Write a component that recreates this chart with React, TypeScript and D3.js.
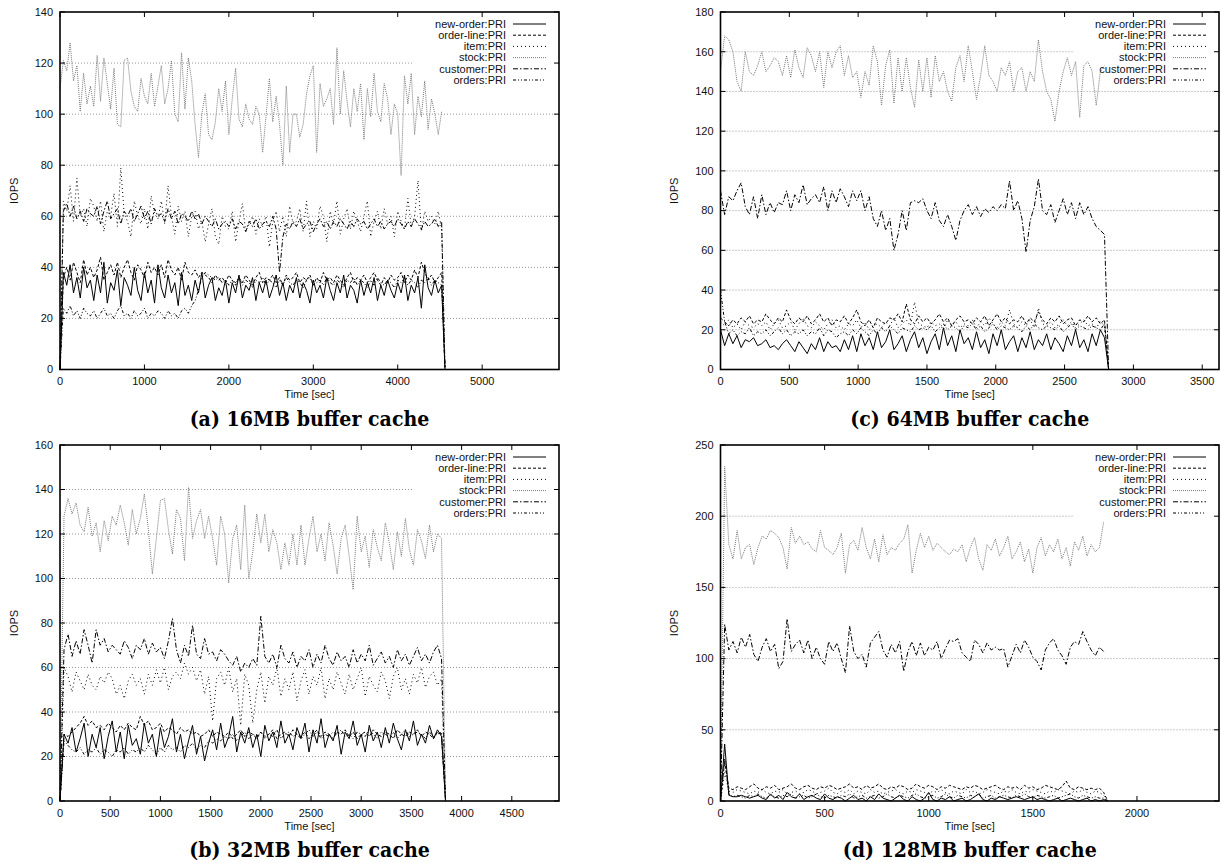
import React from "react";
import * as d3 from "d3";

const SERIES = ["new-order:PRI", "order-line:PRI", "item:PRI", "stock:PRI", "customer:PRI", "orders:PRI"];

// ---------- Panel (a) 16MB : sample step 40 s ----------
const A_STEP = 40;
const A_NEW_ORDER = [
  0, 38, 33, 41, 30, 36, 28, 40, 32, 35,
  27, 37, 30, 42, 26, 34, 31, 39, 25, 36,
  33, 29, 40, 31, 27, 38, 30, 35, 26, 41,
  32, 28, 37, 30, 34, 25, 38, 29, 33, 27,
  35, 30, 38, 28, 33, 36, 27, 32, 29, 35,
  26, 34, 30, 37, 28, 33, 31, 36, 27, 34,
  30, 35, 28, 32, 37, 29, 34, 27, 33, 30,
  36, 28, 34, 31, 26, 35, 30, 33, 28, 36,
  31, 27, 34, 30, 37, 28, 33, 31, 26, 35,
  29, 34, 30, 36, 27, 33, 29, 35, 31, 28,
  34, 30, 37, 27, 33, 30, 36, 24, 41, 32,
  29, 35, 30, 33, 0];
const A_ORDER_LINE = [
  0, 36, 40, 35, 42, 38, 34, 43, 37, 40,
  36, 39, 44, 35, 38, 41, 37, 42, 36, 40,
  43, 38, 35, 41, 39, 36, 42, 38, 40, 37,
  41, 36, 43, 39, 37, 40, 35, 42, 38, 37,
  39, 36, 38, 37, 36, 34, 37, 35, 36, 34,
  37, 35, 33, 36, 34, 37, 35, 33, 36, 38,
  34, 36, 35, 37, 34, 36, 33, 37, 35, 36,
  38, 34, 36, 35, 37, 33, 36, 34, 38, 35,
  36, 34, 37, 35, 33, 36, 38, 34, 36, 35,
  37, 34, 36, 38, 35, 33, 36, 34, 37, 35,
  36, 38, 34, 37, 35, 39, 36, 42, 38, 35,
  37, 34, 36, 38, 0];
const A_ITEM = [
  0, 66, 62, 72, 58, 75, 60, 63, 56, 67,
  64, 58, 66, 54, 62, 60, 69, 56, 79, 61,
  58, 52, 66, 60, 57, 63, 55, 68, 61, 59,
  66, 57, 72, 60, 53, 64, 58, 62, 52, 60,
  62, 55, 58, 50, 57, 63, 52, 49, 60, 56,
  55, 62, 50, 58, 65, 54, 57, 60, 53, 59,
  56, 60, 48, 58, 62, 54, 60, 52, 64, 57,
  58, 63, 54, 66, 52, 58, 55, 64, 60, 50,
  62, 57, 66, 53, 59, 63, 55, 62, 58, 54,
  60, 66, 52, 58, 62, 55, 63, 57, 60, 52,
  62, 58, 55, 67, 56, 60, 74, 54, 62, 58,
  60, 57, 62, 55, 0];
const A_STOCK = [
  110, 121, 117, 128, 113, 119, 101, 116, 104, 111,
  103, 123, 105, 122, 112, 102, 118, 96, 95, 121,
  122, 109, 103, 101, 114, 107, 104, 116, 103, 111,
  119, 104, 110, 121, 100, 97, 124, 102, 122, 113,
  96, 83, 100, 108, 92, 90, 97, 110, 101, 113,
  92, 106, 118, 98, 95, 104, 98, 96, 103, 100,
  85, 99, 114, 97, 107, 96, 80, 111, 85, 100,
  100, 91, 96, 108, 115, 119, 85, 112, 103, 106,
  110, 96, 126, 100, 117, 105, 95, 110, 101, 112,
  90, 110, 99, 116, 101, 97, 112, 106, 92, 104,
  100, 76, 115, 104, 116, 92, 107, 99, 113, 94,
  106, 100, 92, 101];
const A_CUSTOMER = [
  0, 62, 65, 60, 64, 59, 62, 58, 63, 61,
  60, 64, 57, 62, 66, 59, 61, 63, 57, 62,
  60, 63, 58, 61, 64, 59, 62, 57, 63, 60,
  61, 58, 63, 59, 62, 57, 61, 60, 58, 62,
  59, 61, 57, 60, 58, 56, 59, 55, 57, 58,
  56, 59, 55, 58, 57, 54, 58, 56, 59, 55,
  57, 58, 56, 60, 55, 38, 52, 57, 55, 58,
  56, 59, 55, 57, 58, 54, 57, 59, 56, 58,
  55, 58, 56, 59, 57, 55, 58, 56, 59, 57,
  58, 55, 57, 59, 56, 58, 55, 57, 58, 56,
  59, 57, 55, 58, 56, 59, 57, 55, 58, 56,
  57, 59, 56, 58, 0];
const A_ORDERS = [
  0, 24, 22, 25, 21, 23, 20, 24, 22, 21,
  23, 20, 22, 24, 21, 22, 20, 23, 25, 21,
  22, 20, 23, 21, 22, 24, 20, 22, 21, 23,
  22, 20, 23, 21, 22, 20, 23, 24, 22, 25,
  27, 31, 36, 38, 37, 36, 35, 36, 34, 35,
  33, 35, 34, 36, 33, 35, 34, 32, 35, 34,
  36, 33, 35, 34, 32, 35, 33, 36, 34, 33,
  35, 34, 32, 35, 36, 33, 34, 35, 33, 36,
  34, 33, 35, 34, 32, 35, 34, 36, 33, 35,
  34, 32, 35, 33, 36, 34, 33, 35, 34, 32,
  35, 34, 36, 33, 35, 34, 32, 35, 34, 36,
  33, 35, 34, 33, 0];

// ---------- Panel (b) 32MB : sample step 40 s ----------
const B_STEP = 40;
const B_NEW_ORDER = [
  0, 30, 26, 33, 22, 28, 35, 20, 30, 24,
  33, 19, 29, 36, 22, 31, 19, 34, 25, 28,
  21, 35, 26, 30, 20, 33, 24, 29, 37, 22,
  30, 19, 27, 34, 21, 29, 18, 26, 32, 23,
  35, 24, 29, 38, 22, 31, 26, 33, 24, 30,
  20, 34, 27, 31, 24, 36, 26, 30, 23, 33,
  28, 35, 22, 32, 26, 37, 24, 30, 27, 34,
  21, 31, 28, 36, 25, 30, 22, 34, 27, 31,
  24, 33, 26, 35, 28, 23, 32, 27, 36, 25,
  30, 26, 34, 28, 32, 29, 0];
const B_ORDER_LINE = [
  0, 30, 29, 31, 33, 35, 38, 34, 36, 33,
  34, 32, 35, 33, 31, 34, 32, 35, 33, 32,
  38, 34, 36, 32, 33, 35, 31, 33, 32, 30,
  33, 31, 32, 30, 31, 29, 30, 32, 29, 31,
  30, 29, 31, 28, 30, 32, 29, 31, 30, 28,
  31, 29, 30, 32, 28, 30, 31, 29, 32, 30,
  29, 31, 28, 30, 32, 29, 31, 30, 28, 31,
  30, 32, 29, 31, 28, 30, 31, 29, 32, 30,
  29, 31, 30, 28, 32, 30, 29, 31, 30, 32,
  29, 31, 30, 28, 31, 30, 0];
const B_ITEM = [
  0, 60, 56, 49, 58, 54, 50, 57, 52, 50,
  56, 53, 58, 55, 48, 52, 46, 54, 57, 52,
  55, 48, 57, 52, 59, 53, 60, 50, 56, 58,
  55, 62, 57, 60, 54, 59, 48, 56, 36, 55,
  58, 52, 60, 49, 55, 34, 57, 52, 35, 50,
  58, 44, 56, 52, 60, 47, 55, 50, 58, 45,
  54, 59, 48, 56, 52, 60, 46, 55, 50, 58,
  53, 48, 57, 50, 55, 60, 47, 56, 52, 49,
  58, 54, 46, 56, 60, 50, 55, 48, 57, 53,
  60, 51, 56, 58, 52, 55, 0];
const B_STOCK = [
  0, 128, 136, 129, 134, 124, 121, 132, 119, 125,
  112, 126, 117, 128, 124, 133, 125, 115, 131, 120,
  127, 138, 122, 102, 118, 135, 136, 122, 111, 131,
  127, 108, 141, 118, 126, 131, 118, 128, 118, 106,
  128, 120, 98, 118, 124, 104, 133, 100, 112, 129,
  116, 129, 112, 122, 116, 104, 116, 106, 120, 106,
  124, 106, 118, 128, 112, 120, 108, 125, 115, 102,
  118, 124, 110, 95, 128, 112, 119, 105, 122, 114,
  108, 125, 116, 104, 121, 110, 127, 113, 106, 122,
  117, 109, 124, 112, 120, 118, 0];
const B_CUSTOMER = [
  0, 68, 75, 65, 72, 66, 77, 70, 62, 77,
  70, 73, 67, 70, 68, 66, 72, 69, 64, 70,
  68, 73, 66, 71, 67, 69, 64, 72, 82, 68,
  62, 70, 65, 79, 66, 64, 73, 66, 67, 63,
  68, 66, 63, 61, 65, 58, 62, 60, 64, 61,
  83, 65, 62, 66, 60, 70, 64, 62, 67, 60,
  65, 63, 68, 60, 66, 62, 70, 64, 61, 67,
  63, 65, 60, 68, 62, 66, 63, 70, 61, 64,
  67, 62, 65, 60, 68, 63, 66, 61, 65, 69,
  63, 66, 62, 67, 70, 64, 0];
const B_ORDERS = [
  0, 27, 25, 23, 22, 24, 21, 23, 22, 24,
  21, 23, 22, 20, 23, 22, 24, 21, 23, 22,
  24, 22, 25, 23, 21, 24, 22, 25, 23, 24,
  22, 25, 24, 26, 23, 25, 24, 27, 26, 28,
  27, 29, 28, 30, 27, 29, 31, 28, 30, 29,
  31, 28, 30, 29, 32, 28, 30, 31, 29, 30,
  28, 30, 32, 29, 31, 28, 30, 29, 31, 30,
  32, 29, 30, 28, 31, 30, 29, 32, 30, 28,
  31, 30, 29, 31, 28, 30, 32, 29, 30, 31,
  30, 28, 31, 29, 30, 31, 0];

// ---------- Panel (c) 64MB : sample step 30 s ----------
const C_STEP = 30;
const C_NEW_ORDER = [
  20, 12, 18, 13, 17, 11, 15, 14, 16, 12,
  13, 15, 11, 12, 10, 13, 15, 12, 9, 14,
  11, 8, 13, 10, 16, 9, 14, 11, 12, 9,
  15, 10, 17, 9, 18, 12, 16, 10, 19, 11,
  14, 20, 10, 13, 17, 9, 15, 19, 11, 16,
  8, 14, 18, 10, 21, 12, 17, 9, 20, 13,
  16, 10, 19, 11, 15, 8, 18, 12, 20, 10,
  14, 17, 9, 16, 11, 19, 10, 15, 12, 18,
  10, 16, 13, 9, 17, 12, 20, 11, 15, 9,
  18, 12, 20, 16, 0];
const C_ORDER_LINE = [
  26, 24, 22, 25, 23, 26, 24, 27, 23, 25,
  24, 28, 25, 23, 26, 24, 30, 25, 23, 26,
  24, 27, 23, 25, 28, 24, 26, 22, 25, 24,
  27, 23, 26, 30, 24, 22, 25, 21, 26, 24,
  23, 26, 25, 28, 24, 33, 25, 23, 27, 24,
  26, 23, 25, 28, 24, 26, 22, 25, 27, 24,
  25, 23, 26, 24, 27, 22, 25, 28, 24, 26,
  23, 25, 24, 27, 23, 26, 24, 29, 25, 23,
  26, 24, 27, 23, 25, 26, 22, 25, 24, 27,
  24, 26, 23, 25, 0];
const C_ITEM = [
  24, 22, 25, 21, 23, 20, 24, 22, 21, 23,
  22, 24, 20, 23, 25, 21, 22, 24, 20, 23,
  26, 22, 21, 24, 22, 20, 23, 25, 21, 22,
  20, 23, 22, 25, 21, 24, 20, 22, 23, 21,
  24, 22, 26, 21, 23, 25, 22, 34, 23, 22,
  21, 24, 22, 23, 20, 25, 22, 24, 21, 23,
  22, 25, 21, 24, 22, 26, 23, 21, 24, 22,
  30, 23, 21, 24, 22, 25, 21, 31, 23, 22,
  24, 21, 23, 25, 22, 24, 21, 23, 25, 22,
  23, 21, 24, 22, 0];
const C_STOCK = [
  150, 168, 166, 160, 145, 140, 160, 150, 148, 153,
  160, 150, 153, 157, 155, 148, 158, 147, 161, 152,
  147, 162, 158, 150, 160, 142, 160, 152, 160, 163,
  148, 158, 147, 150, 137, 150, 143, 163, 155, 133,
  153, 161, 134, 157, 140, 157, 142, 132, 156, 140,
  157, 137, 158, 145, 150, 140, 135, 152, 158, 145,
  163, 150, 136, 148, 163, 148, 145, 140, 152, 148,
  155, 140, 150, 152, 140, 150, 145, 166, 150, 140,
  136, 125, 140, 150, 157, 148, 155, 127, 153, 155,
  150, 133, 150, 153];
const C_CUSTOMER = [
  90, 78, 87, 85, 90, 94, 82, 78, 87, 76,
  88, 78, 84, 79, 84, 83, 90, 80, 88, 84,
  93, 83, 86, 88, 84, 92, 80, 90, 84, 91,
  87, 82, 90, 85, 90, 80, 87, 76, 72, 80,
  70, 76, 60, 68, 80, 70, 84, 85, 84, 86,
  80, 76, 84, 75, 72, 78, 72, 65, 75, 80,
  83, 78, 82, 77, 81, 79, 82, 80, 83, 81,
  95, 80, 85, 76, 59, 75, 82, 96, 80, 78,
  83, 74, 80, 86, 78, 84, 76, 84, 78, 82,
  76, 72, 70, 68, 0];
const C_ORDERS = [
  40, 24, 18, 20, 17, 19, 18, 21, 17, 19,
  18, 20, 17, 19, 21, 18, 20, 17, 19, 18,
  20, 17, 19, 18, 21, 17, 20, 19, 16, 18,
  19, 17, 20, 18, 21, 19, 17, 20, 18, 21,
  19, 22, 20, 18, 21, 20, 19, 22, 20, 21,
  20, 22, 19, 21, 23, 20, 22, 21, 19, 22,
  21, 23, 20, 22, 19, 21, 23, 20, 22, 21,
  20, 22, 21, 19, 22, 20, 23, 21, 20, 22,
  21, 20, 22, 19, 21, 23, 20, 22, 21, 20,
  22, 21, 20, 23, 0];

// ---------- Panel (d) 128MB : sample step 20 s ----------
const D_STEP = 20;
const D_NEW_ORDER = [
  0, 40, 4, 3, 3, 4, 3, 2, 3, 4,
  2, 1, 5, 2, 4, 1, 6, 3, 2, 5,
  1, 3, 4, 2, 1, 5, 2, 1, 3, 2,
  0, 2, 4, 1, 2, 0, 3, 1, 5, 2,
  1, 0, 2, 4, 1, 0, 3, 1, 0, 2,
  6, 1, 0, 2, 1, 3, 0, 1, 2, 0,
  1, 3, 5, 1, 0, 2, 1, 3, 2, 1,
  2, 3, 2, 1, 2, 3, 1, 2, 1, 0,
  1, 2, 0, 1, 2, 1, 0, 1, 2, 0,
  1, 0, 1, 0];
const D_ORDER_LINE = [
  0, 28, 9, 8, 10, 9, 8, 10, 12, 9,
  8, 10, 9, 11, 8, 9, 10, 12, 9, 8,
  10, 11, 9, 8, 10, 9, 11, 10, 8, 9,
  10, 12, 9, 10, 8, 11, 9, 10, 12, 9,
  8, 10, 9, 11, 10, 8, 9, 12, 10, 9,
  11, 10, 8, 10, 9, 11, 10, 9, 8, 10,
  9, 11, 10, 8, 9, 10, 11, 9, 8, 10,
  9, 10, 8, 11, 9, 10, 8, 9, 11, 10,
  9, 8, 10, 14, 9, 8, 10, 9, 8, 9,
  8, 9, 6, 0];
const D_ITEM = [
  0, 20, 7, 6, 8, 7, 6, 5, 7, 6,
  8, 6, 5, 7, 6, 8, 5, 6, 7, 5,
  6, 8, 7, 5, 6, 7, 9, 6, 5, 7,
  6, 8, 5, 7, 6, 5, 8, 6, 7, 5,
  6, 7, 8, 6, 5, 7, 6, 8, 7, 6,
  5, 7, 6, 8, 6, 5, 7, 6, 5, 8,
  6, 7, 5, 6, 8, 7, 6, 5, 7, 6,
  8, 6, 5, 7, 6, 8, 7, 6, 5, 7,
  6, 8, 7, 6, 5, 7, 6, 8, 6, 5,
  7, 6, 4, 0];
const D_STOCK = [
  0, 235, 180, 170, 190, 170, 178, 180, 166, 178,
  186, 184, 190, 188, 185, 178, 163, 192, 181, 186,
  180, 182, 177, 175, 190, 178, 176, 173, 178, 188,
  160, 180, 183, 176, 192, 178, 170, 184, 168, 187,
  173, 178, 176, 181, 184, 194, 160, 176, 188, 178,
  186, 176, 181, 178, 175, 173, 177, 175, 180, 168,
  178, 185, 170, 162, 180, 176, 184, 172, 178, 186,
  170, 175, 182, 168, 177, 160, 178, 185, 172, 180,
  175, 184, 170, 178, 165, 182, 176, 186, 172, 180,
  175, 178, 196];
const D_CUSTOMER = [
  0, 124, 106, 112, 104, 115, 108, 117, 103, 98,
  108, 114, 105, 110, 93, 98, 128, 105, 110, 113,
  104, 113, 100, 108, 100, 96, 112, 105, 111, 100,
  90, 123, 105, 100, 103, 94, 111, 115, 119, 106,
  101, 110, 104, 112, 91, 105, 112, 102, 111, 102,
  108, 106, 112, 100, 107, 113, 112, 114, 104, 101,
  98, 113, 110, 104, 111, 106, 108, 106, 107, 94,
  102, 110, 104, 113, 108, 101, 98, 92, 106, 111,
  114, 106, 102, 96, 108, 112, 110, 119, 112, 106,
  102, 108, 105];
const D_ORDERS = [
  0, 30, 5, 3, 4, 3, 2, 4, 3, 5,
  3, 2, 4, 3, 2, 4, 3, 5, 2, 3,
  4, 2, 3, 5, 3, 2, 4, 3, 2, 4,
  3, 5, 2, 3, 4, 2, 3, 4, 2, 3,
  5, 3, 2, 4, 3, 2, 4, 5, 3, 2,
  3, 4, 2, 3, 5, 3, 2, 4, 3, 2,
  4, 3, 5, 2, 3, 4, 2, 3, 4, 3,
  2, 4, 3, 5, 3, 2, 4, 3, 2, 3,
  4, 2, 3, 4, 5, 3, 2, 4, 3, 2,
  3, 2, 2, 0];

// axis settings per panel
const A_X_TICKS = [0, 1000, 2000, 3000, 4000, 5000];
const B_X_TICKS = [0, 500, 1000, 1500, 2000, 2500, 3000, 3500, 4000, 4500];
const C_X_TICKS = [0, 500, 1000, 1500, 2000, 2500, 3000, 3500];
const D_X_TICKS = [0, 500, 1000, 1500, 2000];
const A_Y_TICKS = [0, 20, 40, 60, 80, 100, 120, 140];
const B_Y_TICKS = [0, 20, 40, 60, 80, 100, 120, 140, 160];
const C_Y_TICKS = [0, 20, 40, 60, 80, 100, 120, 140, 160, 180];
const D_Y_TICKS = [0, 50, 100, 150, 200, 250];
const TITLES = ["(a) 16MB buffer cache", "(b) 32MB buffer cache", "(c) 64MB buffer cache", "(d) 128MB buffer cache"];

const PANELS = [
  { title: TITLES[0], step: A_STEP, xMax: 5910, yMax: 140, xTicks: A_X_TICKS, yTicks: A_Y_TICKS,
    series: [A_NEW_ORDER, A_ORDER_LINE, A_ITEM, A_STOCK, A_CUSTOMER, A_ORDERS],
    box: { left: 60, right: 559, top: 12, bottom: 369.5 } },
  { title: TITLES[1], step: B_STEP, xMax: 4970, yMax: 160, xTicks: B_X_TICKS, yTicks: B_Y_TICKS,
    series: [B_NEW_ORDER, B_ORDER_LINE, B_ITEM, B_STOCK, B_CUSTOMER, B_ORDERS],
    box: { left: 60, right: 559, top: 445, bottom: 801 } },
  { title: TITLES[2], step: C_STEP, xMax: 3622, yMax: 180, xTicks: C_X_TICKS, yTicks: C_Y_TICKS,
    series: [C_NEW_ORDER, C_ORDER_LINE, C_ITEM, C_STOCK, C_CUSTOMER, C_ORDERS],
    box: { left: 720.5, right: 1219, top: 12, bottom: 369.5 } },
  { title: TITLES[3], step: D_STEP, xMax: 2394, yMax: 250, xTicks: D_X_TICKS, yTicks: D_Y_TICKS,
    series: [D_NEW_ORDER, D_ORDER_LINE, D_ITEM, D_STOCK, D_CUSTOMER, D_ORDERS],
    box: { left: 720.5, right: 1219, top: 445, bottom: 801 } },
];

const STYLES = [
  { stroke: "#000", dash: undefined as string | undefined },
  { stroke: "#000", dash: "3,2" },
  { stroke: "#000", dash: "1,3" },
  { stroke: "#7a7a7a", dash: "1,1" },
  { stroke: "#000", dash: "5,2,1.5,2" },
  { stroke: "#000", dash: "3,2,1,2,1,2" },
];

const SANS = "'Liberation Sans', Arial, Helvetica, sans-serif";

function Panel({ p }: { p: typeof PANELS[number] }) {
  const b = p.box;
  const x = d3.scaleLinear().domain([0, p.xMax]).range([b.left, b.right]);
  const y = d3.scaleLinear().domain([0, p.yMax]).range([b.bottom, b.top]);
  const line = d3.line<number>().x((_, i) => x(i * p.step)).y((d) => y(d));
  const cx = (b.left + b.right) / 2;
  const cy = (b.top + b.bottom) / 2;
  const keyLeft = b.right - 146;
  return (
    <g>
      {p.yTicks.filter((t) => t > 0 && t < p.yMax).map((t) => (
        <line key={"g" + t} x1={b.left} x2={b.right} y1={y(t)} y2={y(t)}
          stroke="#8c8c8c" strokeWidth={0.9} strokeDasharray="1,2" />
      ))}
      <rect x={keyLeft} y={b.top + 1} width={b.right - keyLeft - 1} height={75} fill="#fff" />
      {p.series.map((s, k) => (
        <path key={"s" + k} d={line(s) || ""} fill="none" stroke={STYLES[k].stroke}
          strokeWidth={1} strokeDasharray={STYLES[k].dash} strokeLinejoin="round" />
      ))}
      <rect x={b.left} y={b.top} width={b.right - b.left} height={b.bottom - b.top}
        fill="none" stroke="#000" strokeWidth={1.6} />
      {p.xTicks.map((t) => (
        <g key={"xt" + t}>
          <line x1={x(t)} x2={x(t)} y1={b.bottom} y2={b.bottom - 5} stroke="#000" strokeWidth={1} />
          <line x1={x(t)} x2={x(t)} y1={b.top} y2={b.top + 5} stroke="#000" strokeWidth={1} />
          <text x={x(t)} y={b.bottom + 12} dy="0.35em" textAnchor="middle" fontSize={11}
            fontFamily={SANS} fill="#111">{t}</text>
        </g>
      ))}
      {p.yTicks.map((t) => (
        <g key={"yt" + t}>
          <line x1={b.left} x2={b.left + 5} y1={y(t)} y2={y(t)} stroke="#000" strokeWidth={1} />
          <line x1={b.right} x2={b.right - 5} y1={y(t)} y2={y(t)} stroke="#000" strokeWidth={1} />
          <text x={b.left - 7} y={y(t)} dy="0.35em" textAnchor="end" fontSize={11}
            fontFamily={SANS} fill="#111">{t}</text>
        </g>
      ))}
      <text transform={`translate(${b.left - 46},${cy}) rotate(-90)`} dy="0.35em" textAnchor="middle"
        fontSize={11} fontFamily={SANS} fill="#111">IOPS</text>
      <text x={cx} y={b.bottom + 25} dy="0.35em" textAnchor="middle" fontSize={11}
        fontFamily={SANS} fill="#111">Time [sec]</text>
      <text transform={`translate(${cx},${b.bottom + 49}) scale(0.95,1)`} dy="0.35em" textAnchor="middle"
        fontSize={20} fontWeight="bold" fontFamily="'DejaVu Serif', serif" fill="#000">{p.title}</text>
      {SERIES.map((name, k) => {
        const yy = b.top + 12 + k * 11.2;
        return (
          <g key={"k" + k}>
            <text x={b.right - 53} y={yy} dy="0.35em" textAnchor="end" fontSize={11}
              fontFamily={SANS} fill="#111">{name}</text>
            <line x1={b.right - 46} x2={b.right - 13} y1={yy} y2={yy} stroke={STYLES[k].stroke}
              strokeWidth={1} strokeDasharray={STYLES[k].dash} />
          </g>
        );
      })}
    </g>
  );
}

export default function App() {
  return (
    <svg width={1221} height={863} viewBox="0 0 1221 863"
      style={{ position: "absolute", left: 0, top: 0, background: "#fff", display: "block" }}>
      <rect x={0} y={0} width={1221} height={863} fill="#fff" />
      {PANELS.map((p, i) => <Panel key={i} p={p} />)}
    </svg>
  );
}
